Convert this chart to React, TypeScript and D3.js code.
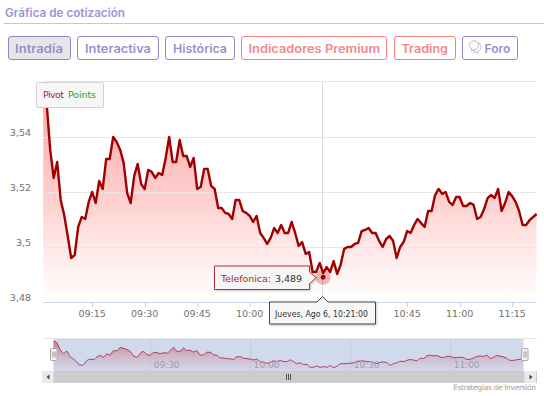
import React from "react";
import * as d3 from "d3";

const W = 544, H = 396;
const seriesName = "Telefonica";
const startMinute = 541; // 09:01
const prices = [
  3.5564,3.552,3.5353,3.5251,3.5309,3.5171,3.5116,3.504,3.496,3.4971,3.5073,3.5109,3.5102,3.5164,3.52,3.516,3.524,3.5211,3.532,3.532,
  3.54,3.5382,3.5353,3.5305,3.5196,3.516,3.5258,3.5302,3.5229,3.5211,3.528,3.5273,3.5251,3.5269,3.5262,3.5324,3.54,3.5309,3.5309,3.5389,
  3.5331,3.5331,3.5291,3.5324,3.5211,3.5218,3.5284,3.5284,3.5222,3.5211,3.5142,3.5142,3.5124,3.512,3.5102,3.5171,3.5171,3.5131,3.5124,3.5113,
  3.5091,3.5113,3.5051,3.5033,3.5011,3.5033,3.5069,3.5051,3.508,3.5051,3.5051,3.5091,3.5051,3.5004,3.5018,3.4975,3.4982,3.4909,3.4909,3.4942,
  3.4905,3.4927,3.4909,3.4949,3.4902,3.4935,3.4993,3.5,3.5,3.5011,3.5015,3.5058,3.5062,3.5069,3.5051,3.5051,3.5022,3.5,3.5029,3.504,
  3.5022,3.496,3.5,3.5018,3.5058,3.5051,3.508,3.5102,3.5087,3.5073,3.5131,3.5131,3.5189,3.5211,3.5193,3.52,3.5164,3.5153,3.5182,3.5182,
  3.5149,3.5149,3.516,3.5153,3.5102,3.5109,3.5138,3.5178,3.5189,3.5178,3.5211,3.5131,3.516,3.52,3.5185,3.5164,3.5131,3.508,3.508,3.5098,3.5109,3.512,
];
const points = prices.map((p, i) => ({ t: startMinute + i, p }));
const priceTicks = [3.54, 3.52, 3.5, 3.48];
const priceLabels = ["3,54", "3,52", "3,5", "3,48"];
const timeTicks = [555, 570, 585, 600, 645, 660, 675];
const navTicks = [570, 600, 630, 660];
const hoverMinute = 621;
const hoverPrice = 3.489;
const hoverLabel = "3,489";
const hoverDate = "Jueves, Ago 6, 10:21:00";
const fmtTime = (m: number) => `${String(Math.floor(m / 60)).padStart(2, "0")}:${String(m % 60).padStart(2, "0")}`;

const purple = "#9586c9", salmon = "#f08080";
const buttons = [
  { label: "Intradía", x0: 8.5, x1: 70.5, c: purple, tx0: 15, tx1: 63, active: true },
  { label: "Interactiva", x0: 77.5, x1: 158.5, c: purple, tx0: 85, tx1: 151 },
  { label: "Histórica", x0: 165.5, x1: 234.5, c: purple, tx0: 173, tx1: 227 },
  { label: "Indicadores Premium", x0: 241.5, x1: 386.5, c: salmon, tx0: 248.5, tx1: 380 },
  { label: "Trading", x0: 394.5, x1: 455.5, c: salmon, tx0: 401.5, tx1: 448 },
  { label: "Foro", x0: 462.5, x1: 517.5, c: purple, tx0: 484.5, tx1: 510.5 },
];

const UI = "Inter, 'Noto Sans', sans-serif";
const CH = "'DejaVu Sans', sans-serif";

export default function App() {
  const x = d3.scaleLinear().domain([startMinute, startMinute + prices.length - 1]).range([43.2, 536.6]);
  const y = d3.scaleLinear().domain([3.54, 3.48]).range([137, 302]);
  const nx = d3.scaleLinear().domain([startMinute, startMinute + prices.length - 1]).range([53.5, 523.5]);
  const ny = d3.scaleLinear().domain([3.4815, 3.5615]).range([371, 339]);
  const line = d3.line<any>().x(d => x(d.t)).y(d => y(d.p));
  const area = d3.area<any>().x(d => x(d.t)).y1(d => y(d.p)).y0(302);
  const nline = d3.line<any>().x(d => nx(d.t)).y(d => ny(d.p)).curve(d3.curveMonotoneX);
  const narea = d3.area<any>().x(d => nx(d.t)).y1(d => ny(d.p)).y0(371).curve(d3.curveMonotoneX);
  const hx = x(hoverMinute), hy = y(hoverPrice);

  return (
    <svg width={W} height={H} style={{ position: "absolute", left: 0, top: 0, background: "#fff" }}>
      <defs>
        <linearGradient id="ag" gradientUnits="userSpaceOnUse" x1="0" y1="100" x2="0" y2="302">
          <stop offset="0" stopColor="#ff9c9c" stopOpacity="0.9" />
          <stop offset="0.5" stopColor="#ffc0c0" stopOpacity="0.75" />
          <stop offset="1" stopColor="#ffffff" stopOpacity="0.6" />
        </linearGradient>
        <linearGradient id="ng" gradientUnits="userSpaceOnUse" x1="0" y1="340" x2="0" y2="371">
          <stop offset="0" stopColor="#c0505f" stopOpacity="0.75" />
          <stop offset="1" stopColor="#d8b8c8" stopOpacity="0.1" />
        </linearGradient>
        <filter id="sh" x="-10%" y="-20%" width="120%" height="150%">
          <feDropShadow dx="1" dy="1" stdDeviation="1" floodColor="#000" floodOpacity="0.2" />
        </filter>
      </defs>

      <text x={5} y={17} fontFamily={UI} fontWeight={600} fontSize={11.5} fill="#a194d2" textLength={120} lengthAdjust="spacingAndGlyphs">Gráfica de cotización</text>
      <line x1={4} x2={544} y1={23.5} y2={23.5} stroke="#c9c2e0" />

      {buttons.map(b => (
        <g key={b.label}>
          <rect x={b.x0} y={36.5} width={b.x1 - b.x0} height={23} rx={2.5} fill={b.active ? "#e6e6e6" : "#fff"} stroke={b.c} />
          <text x={b.tx0} y={53} fontFamily={UI} fontWeight={600} fontSize={11.5} fill={b.c} fillOpacity={0.95} textLength={b.tx1 - b.tx0} lengthAdjust="spacingAndGlyphs">{b.label}</text>
        </g>
      ))}
      <g fill="#fff" stroke="#b5abdc" strokeWidth={0.9}>
        <path d="M472.5 48.5a4.6 4 0 1 1 8.2 0c-0.4 1.6-1.6 2.6-2.8 3l-0.6 1.8-1.4-1.6-1.4 1.4-0.3-2c-1-0.4-1.5-1.4-1.7-2.6z" />
        <path d="M469.8 46.5a4.6 4 0 1 1 8.4 0c-0.4 1.8-2 3-4.2 3l-2.4 1.6 0.2-2.2c-1.2-0.5-1.8-1.4-2-2.4z" />
      </g>

      {/* plot */}
      <line x1={43} x2={536.5} y1={81.5} y2={81.5} stroke="#e6e6e6" />
      <path d={area(points) as string} fill="url(#ag)" />
      {priceTicks.map(t => (
        <line key={t} x1={43} x2={536.5} y1={Math.round(y(t)) + 0.5} y2={Math.round(y(t)) + 0.5} stroke="#e6e6e6" strokeOpacity={t === 3.48 ? 0 : 0.9} />
      ))}
      <line x1={43} x2={536.5} y1={302.5} y2={302.5} stroke="#c8d4ec" />
      {timeTicks.map(t => (
        <g key={t}>
          <line x1={Math.round(x(t)) + 0.5} x2={Math.round(x(t)) + 0.5} y1={302} y2={307} stroke="#c8d4ec" />
          <text x={x(t)} y={316.5} textAnchor="middle" fontFamily={CH} fontSize={9.5} fill="#707070">{fmtTime(t)}</text>
        </g>
      ))}
      {priceTicks.map((t, i) => (
        <text key={t} x={31} y={y(t) - 1} textAnchor="end" fontFamily={CH} fontSize={9.5} fill="#707070">{priceLabels[i]}</text>
      ))}
      <line x1={322.5} x2={322.5} y1={82} y2={302} stroke="#dcdcdc" />
      <path d={line(points) as string} fill="none" stroke="#a00000" strokeWidth={2.4} strokeLinejoin="round" />

      {/* marker */}
      <circle cx={hx} cy={hy} r={7.5} fill="#a00000" fillOpacity={0.25} />
      <circle cx={hx} cy={hy} r={2.4} fill="#a00000" />

      {/* pivot box */}
      <rect x={36.5} y={82.5} width={67} height={25} fill="#f6f6f6" stroke="#d2d2d2" rx={1} />
      <text y={98} fontFamily={CH} fontSize={9.5}>
        <tspan x={43} fill="#a52a35" textLength={21}>Pivot</tspan>
        <tspan x={68} fill="#2f9e3c" textLength={28}>Points</tspan>
      </text>

      {/* series tooltip */}
      <path d="M214.5 266H309.5V272L316 277.5L309.5 284V289.5H214.5Z" fill="#f7f7f7" fillOpacity={0.95} stroke="#b03030" filter="url(#sh)" />
      <text y={281.5} fontFamily={CH} fontSize={9.5}>
        <tspan x={221} fill="#b22a2a" textLength={50}>{seriesName}:</tspan>
        <tspan x={275} fill="#333" textLength={27}>{hoverLabel}</tspan>
      </text>

      {/* time tooltip */}
      <path d="M269.5 302H317L322.5 296.5L328 302H375.5V324H269.5Z" fill="#f7f7f7" stroke="#444" filter="url(#sh)" />
      <text x={275} y={317} fontFamily={CH} fontSize={8.5} fill="#333" textLength={93} lengthAdjust="spacingAndGlyphs">{hoverDate}</text>

      {/* navigator */}
      <line x1={43} x2={537} y1={338.5} y2={338.5} stroke="#e6e6e6" />
      <rect x={53.5} y={339} width={470} height={32} fill="#d1d9ec" />
      {navTicks.map(t => (
        <line key={t} x1={Math.round(nx(t)) + 0.5} x2={Math.round(nx(t)) + 0.5} y1={339} y2={371} stroke="#c4cde3" />
      ))}
      <path d={narea(points) as string} fill="url(#ng)" />
      <path d={nline(points) as string} fill="none" stroke="#a8405c" strokeWidth={1} />
      {navTicks.map(t => (
        <text key={t} x={nx(t) + 3.5} y={368} fontFamily={CH} fontSize={9} fill="#999fb0">{fmtTime(t)}</text>
      ))}
      <rect x={42} y={371} width={495} height={12} fill="#cccccc" />
      <rect x={42} y={371} width={11.5} height={12} fill="#eaeaea" />
      <rect x={524.5} y={371} width={11.5} height={12} fill="#eaeaea" />
      <path d="M49.5 374.5v5l-3-2.5z" fill="#444" />
      <path d="M529.5 374.5v5l3-2.5z" fill="#444" />
      <g stroke="#555">
        <line x1={286.5} x2={286.5} y1={374} y2={380} />
        <line x1={288.5} x2={288.5} y1={374} y2={380} />
        <line x1={290.5} x2={290.5} y1={374} y2={380} />
      </g>
      {[50.5, 521.5].map(hxv => (
        <g key={hxv}>
          <rect x={hxv} y={348.5} width={6.5} height={12} fill="#f2f2f2" stroke="#a8a8a8" rx={1} />
          <line x1={hxv + 2.5} x2={hxv + 2.5} y1={351.5} y2={357.5} stroke="#999" />
          <line x1={hxv + 4.5} x2={hxv + 4.5} y1={351.5} y2={357.5} stroke="#999" />
        </g>
      ))}
      <text x={536} y={390} textAnchor="end" fontFamily={CH} fontSize={7.5} fill="#a0a0a0" textLength={83}>Estrategias de Inversión</text>
    </svg>
  );
}
